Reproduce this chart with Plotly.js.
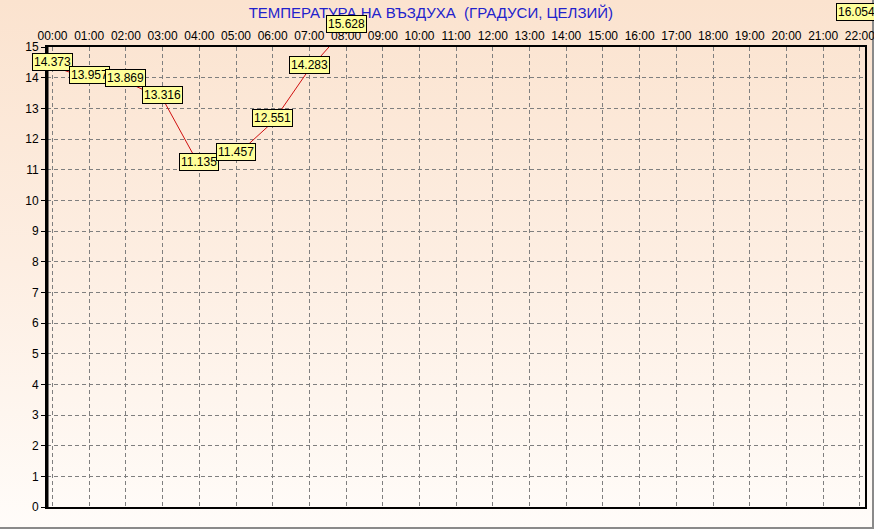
<!DOCTYPE html>
<html>
<head>
<meta charset="utf-8">
<script src="https://cdn.plot.ly/plotly-3.0.1.min.js"></script>
<style>
html,body{margin:0;padding:0;}
body{width:874px;height:529px;overflow:hidden;}
#wrap{position:relative;width:872px;height:527px;border-right:2px solid #8a8a8a;border-bottom:2px solid #8a8a8a;
background:linear-gradient(to bottom,#fbe3cf 0%,#fdeee2 50%,#fffcf9 100%);}
#chart{position:absolute;left:0;top:0;width:874px;height:529px;}
</style>
</head>
<body>
<div id="wrap"></div>
<div id="chart"></div>
<script>
// ---- data ----
var hours = [0, 1, 2, 3, 4, 5, 6, 7, 8];
var temps = [14.373, 13.957, 13.869, 13.316, 11.135, 11.457, 12.551, 14.283, 15.628];
var tickHours = [0,1,2,3,4,5,6,7,8,9,10,11,12,13,14,15,16,17,18,19,20,21,22];
var tickLabels = ["00:00","01:00","02:00","03:00","04:00","05:00","06:00","07:00","08:00","09:00","10:00","11:00",
  "12:00","13:00","14:00","15:00","16:00","17:00","18:00","19:00","20:00","21:00","22:00"];
var extraValue = 16.054;
var titleText = "ТЕМПЕРАТУРА НА ВЪЗДУХА\u00a0\u00a0(ГРАДУСИ, ЦЕЛЗИЙ)";

var xRange = [-0.15, 22.14];
var yRange = [0, 15];

var traces = [
  {x: hours, y: temps, type: 'scatter', mode: 'lines',
   line: {color: '#d01010', width: 1}, hoverinfo: 'skip', showlegend: false},
  {x: hours, y: temps, type: 'scatter', mode: 'markers',
   marker: {symbol: 'line-ew', size: 9, color: '#8b0000', line: {color: '#8b0000', width: 6}},
   hoverinfo: 'skip', showlegend: false},
  {x: hours, y: temps, type: 'scatter', mode: 'markers',
   marker: {symbol: 'line-ew', size: 7, color: '#d40000', line: {color: '#d40000', width: 4}},
   hoverinfo: 'skip', showlegend: false}
];

var labelFont = {family: 'Liberation Sans, Arial, sans-serif', size: 12, color: '#000'};
var annotations = hours.map(function(h, i){
  return {x: h, y: (temps[i] - yRange[0]) / (yRange[1] - yRange[0]), xref: 'x', yref: 'paper',
    text: temps[i].toFixed(3), showarrow: false,
    xanchor: 'center', yanchor: 'bottom', yshift: -5,
    bgcolor: '#ffff99', bordercolor: '#000000', borderwidth: 1, borderpad: 1, font: labelFont};
});
annotations.push({x: 0.965, y: 1.0957, xref: 'paper', yref: 'paper', text: extraValue.toFixed(3), showarrow: false,
  xanchor: 'left', yanchor: 'top', bgcolor: '#ffff99', bordercolor: '#000000', borderwidth: 1, borderpad: 1,
  font: labelFont});

var layout = {
  width: 874, height: 529,
  margin: {l: 47, r: 9, t: 47, b: 22, pad: 0},
  paper_bgcolor: 'rgba(0,0,0,0)', plot_bgcolor: 'rgba(0,0,0,0)',
  font: {family: 'Liberation Sans, Arial, sans-serif', size: 12, color: '#000'},
  title: {text: titleText, x: 0.493, xanchor: 'center', y: 0.975, yanchor: 'middle',
          font: {family: 'Liberation Sans, Arial, sans-serif', size: 15, color: '#2222cc'}},
  xaxis: {side: 'top', range: xRange, tickmode: 'array', tickvals: tickHours, ticktext: tickLabels,
    ticklabeloverflow: 'allow',
    showgrid: true, gridcolor: '#7f7f7f', griddash: '4px,3px', gridwidth: 1,
    showline: true, linecolor: '#000', linewidth: 2, mirror: true,
    ticks: '', ticklen: 0, zeroline: false, fixedrange: true, tickfont: {size: 12}},
  yaxis: {range: yRange, tickmode: 'linear', tick0: 0, dtick: 1,
    showgrid: true, gridcolor: '#7f7f7f', griddash: '4px,3px', gridwidth: 1,
    showline: true, linecolor: '#000', linewidth: 2, mirror: true,
    ticks: 'outside', ticklen: 4, tickcolor: '#000', zeroline: false, fixedrange: true, tickfont: {size: 12}},
  shapes: [{type: 'line', xref: 'paper', yref: 'paper', x0: 0, x1: 0, y0: 0, y1: 1,
            line: {color: '#000', width: 3}}],
  annotations: annotations
};

Plotly.newPlot('chart', traces, layout, {displayModeBar: false, staticPlot: true});
</script>
</body>
</html>
